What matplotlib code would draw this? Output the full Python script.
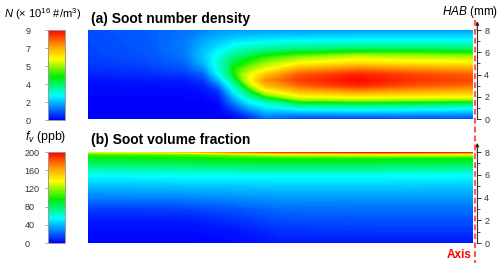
import numpy as np
import matplotlib.pyplot as plt
from matplotlib.colors import LinearSegmentedColormap, FuncNorm, Normalize
from matplotlib.cm import ScalarMappable
from matplotlib.lines import Line2D
from matplotlib.transforms import offset_copy

plt.rcParams['font.family'] = ['Liberation Sans', 'DejaVu Sans']
plt.rcParams['mathtext.fontset'] = 'custom'
plt.rcParams['mathtext.rm'] = 'Liberation Sans'
plt.rcParams['mathtext.it'] = 'Liberation Sans:italic'
plt.rcParams['mathtext.bf'] = 'Liberation Sans:bold'

# ---- data ----
# (a) soot number density N (x 1e16 #/m3), columns = radial position (0 left .. 1 axis)
x_a = [0.0, 0.15, 0.25, 0.30, 0.34, 0.38, 0.42, 0.46, 0.55, 0.70, 0.85, 1.0]
hab_a = [0, 0.5, 1, 1.5, 2, 2.5, 3, 3.5, 4, 4.5, 5, 5.5, 6, 7, 8]
n_cols = [
    [0.05, 0.05, 0.05, 0.05, 0.05, 0.08, 0.1, 0.2, 0.35, 0.5, 0.6, 0.65, 0.7, 0.75, 0.8],
    [0.05, 0.05, 0.05, 0.05, 0.05, 0.08, 0.12, 0.25, 0.45, 0.6, 0.75, 0.85, 0.9, 0.95, 1.0],
    [0.03, 0.03, 0.03, 0.05, 0.06, 0.1, 0.15, 0.3, 0.6, 0.85, 1.05, 1.2, 1.3, 1.3, 1.2],
    [0.03, 0.03, 0.03, 0.05, 0.08, 0.15, 0.3, 0.6, 1.0, 1.5, 1.9, 2.1, 2.1, 1.8, 1.4],
    [0.03, 0.03, 0.05, 0.1, 0.3, 0.6, 1.2, 2.0, 2.7, 3.0, 3.1, 3.0, 2.7, 2.1, 1.6],
    [0.05, 0.3, 0.8, 1.4, 2.0, 2.7, 3.3, 3.9, 4.4, 4.5, 4.2, 3.9, 3.4, 2.4, 1.6],
    [0.4, 1.0, 1.8, 2.6, 3.4, 4.2, 5.0, 5.7, 5.6, 5.0, 4.6, 4.3, 3.7, 2.5, 1.6],
    [1.0, 1.7, 2.4, 3.2, 4.4, 5.5, 6.7, 7.3, 6.6, 5.6, 5.0, 4.6, 4.0, 2.6, 1.6],
    [0.6, 1.7, 3.0, 4.3, 5.6, 6.8, 7.8, 8.3, 8.0, 7.0, 5.8, 5.0, 4.3, 2.7, 1.6],
    [0.6, 1.8, 3.2, 4.4, 5.9, 7.3, 8.5, 8.9, 8.6, 7.6, 6.3, 5.5, 4.5, 2.8, 1.6],
    [0.7, 1.8, 3.0, 4.3, 5.8, 7.0, 8.0, 8.4, 8.2, 7.3, 6.1, 5.3, 4.5, 2.8, 1.6],
    [0.7, 1.7, 2.8, 4.2, 5.7, 6.8, 7.7, 8.2, 7.9, 7.1, 6.0, 5.2, 4.4, 2.8, 1.6],
]
n_ticks = [0, 2, 4, 5, 7, 9]

# (b) soot volume fraction fv (ppb)
x_b = [0.0, 0.25, 0.38, 0.5, 0.75, 1.0]
hab_b = [0, 1, 2, 3, 4, 5, 6, 6.5, 7, 7.5, 7.8, 8.0]
fv_cols = [
    [1, 2, 5, 13, 27, 40, 55, 66, 80, 92, 105, 130],
    [1, 2, 5, 14, 28, 41, 56, 68, 82, 95, 110, 150],
    [2, 4, 10, 18, 30, 42, 56, 70, 84, 98, 120, 170],
    [5, 10, 16, 23, 32, 43, 56, 70, 84, 100, 130, 185],
    [5, 11, 17, 24, 32, 43, 56, 70, 84, 100, 135, 195],
    [5, 11, 17, 24, 32, 42, 55, 68, 82, 98, 130, 190],
]
fv_ticks = [0, 40, 80, 120, 160, 200]
hab_ticks = [0, 2, 4, 6, 8]

cmap = LinearSegmentedColormap.from_list('flame', [
    (0.0, '#0000ff'), (0.27, '#00ffff'), (0.48, '#00ee00'),
    (0.68, '#ffff00'), (0.83, '#ff9900'), (1.0, '#ff0000')])

pos = np.linspace(0, 1, len(n_ticks))
norm_a = FuncNorm((lambda v: np.interp(v, n_ticks, pos),
                   lambda f: np.interp(f, pos, n_ticks)), vmin=0, vmax=9)
norm_b = Normalize(0, 200)

fig = plt.figure(figsize=(5, 2.63), dpi=100)

panels = [
    dict(x=x_a, hab=hab_a, z=np.array(n_cols).T, norm=norm_a, ticks=n_ticks,
         img=[0.176, 0.5475, 0.77, 0.338], cb=[0.095, 0.5437, 0.035, 0.342],
         title='(a) Soot number density', ty=0.914,
         label=r'$N$ (× 10$^{16}$ #/m$^3$)', lx=0.008, ly=0.930, lsize=8, cbpad=13.5),
    dict(x=x_b, hab=hab_b, z=np.array(fv_cols).T, norm=norm_b, ticks=fv_ticks,
         img=[0.176, 0.076, 0.77, 0.346], cb=[0.095, 0.076, 0.035, 0.346],
         title='(b) Soot volume fraction', ty=0.452,
         label=r'$f_v$ (ppb)', lx=0.05, ly=0.468, lsize=8.8, cbpad=14.5),
]

for p in panels:
    ax = fig.add_axes(p['img'])
    levels = p['norm'].inverse(np.linspace(0, 1, 161))
    ax.contourf(p['x'], p['hab'], p['z'], levels=levels, cmap=cmap,
                norm=p['norm'], extend='both')
    ax.set_xlim(0, 1)
    ax.set_ylim(0, 8)
    ax.set_xticks([])
    for s in ['top', 'left', 'bottom']:
        ax.spines[s].set_visible(False)
    ax.spines['right'].set_position(('outward', 3.1))
    ax.spines['right'].set_color('#333333')
    ax.spines['right'].set_linewidth(0.8)
    ax.yaxis.tick_right()
    ax.set_yticks(hab_ticks)
    ax.set_yticks([1, 3, 5, 7], minor=True)
    ax.tick_params(axis='y', which='major', length=3, width=0.7, color='#333333',
                   labelsize=6.5, labelcolor='#333333', pad=2)
    ax.tick_params(axis='y', which='minor', length=1.8, width=0.6, color='#333333')
    tr = offset_copy(ax.transAxes, fig=fig, x=3.1 * 100 / 72, y=0, units='dots')
    ax.annotate('', xy=(1, 1.1), xytext=(1, 0.99), xycoords=tr, textcoords=tr,
                annotation_clip=False,
                arrowprops=dict(arrowstyle='-|>', lw=0.8, color='#222222',
                                mutation_scale=5, shrinkA=0, shrinkB=0))

    cax = fig.add_axes(p['cb'])
    cb = fig.colorbar(ScalarMappable(norm=p['norm'], cmap=cmap), cax=cax)
    cb.set_ticks(p['ticks'])
    cb.minorticks_off()
    cb.outline.set_edgecolor('#9a9a9a')
    cb.outline.set_linewidth(0.7)
    cax.yaxis.set_ticks_position('left')
    cax.tick_params(length=2, width=0.6, color='#9a9a9a', labelsize=6.5,
                    labelcolor='#333333', pad=p['cbpad'])
    plt.setp(cax.get_yticklabels(), ha='left')

    fig.text(0.182, p['ty'], p['title'], fontsize=10, fontweight='bold',
             va='baseline')
    fig.text(p['lx'], p['ly'], p['label'], fontsize=p['lsize'], va='baseline')

fig.text(0.996, 0.943, r'$HAB$ (mm)', fontsize=8.5, ha='right', va='baseline')
fig.text(0.944, 0.019, 'Axis', fontsize=8.5, fontweight='bold', color='#ff0000',
         ha='right', va='baseline')

fig.add_artist(Line2D([0.95, 0.95], [0.925, 0.0], transform=fig.transFigure,
                      color='#ff5a5a', lw=1.6, linestyle=(0, (2.6, 1.4))))

fig.savefig('out.png', dpi=100)
